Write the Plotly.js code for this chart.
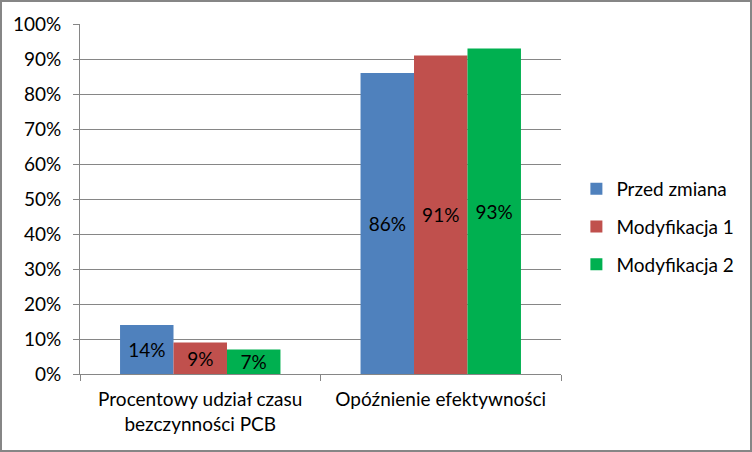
<!DOCTYPE html>
<html><head><meta charset="utf-8">
<script src="https://cdn.plot.ly/plotly-3.0.1.min.js"></script>
<style>
html,body{margin:0;padding:0;background:#fff;}
#wrap{position:relative;width:752px;height:452px;}
#chart{position:absolute;left:0;top:0;width:752px;height:452px;}
#frame{position:absolute;left:0;top:0;width:752px;height:452px;box-sizing:border-box;border:2px solid #868686;pointer-events:none;}
</style></head>
<body>
<div id="wrap"><div id="chart"></div><div id="frame"></div></div>
<script>
const categories = ["Procentowy udział czasu<br>bezczynności PCB", "Opóźnienie efektywności"];
const seriesNames = ["Przed zmiana", "Modyfikacja 1", "Modyfikacja 2"];
const przedZmiana = [0.14, 0.86];
const modyfikacja1 = [0.09, 0.91];
const modyfikacja2 = [0.07, 0.93];
const yTickVals = [0, 0.1, 0.2, 0.3, 0.4, 0.5, 0.6, 0.7, 0.8, 0.9, 1.0];
const yTickText = ["0%", "10%", "20%", "30%", "40%", "50%", "60%", "70%", "80%", "90%", "100%"];
const colors = ["#4F81BD", "#C0504D", "#00B050"];

const FONT = "Lato, 'Open Sans', sans-serif";
const FS = 19;
const seriesValues = [przedZmiana, modyfikacja1, modyfikacja2];
const traces = seriesValues.map((vals, i) => ({
  type: "bar",
  name: seriesNames[i],
  legendgroup: "g" + i,
  x: categories,
  y: vals,
  marker: {color: colors[i], line: {width: 0}},
  texttemplate: "%{y:.0%}",
  textposition: "inside",
  insidetextanchor: "middle",
  textangle: 0,
  insidetextfont: {family: FONT, size: FS, color: "#000"},
  constraintext: "none",
  hoverinfo: "skip"
}));

const layout = {
  width: 752, height: 452,
  margin: {l: 80, r: 191, t: 24, b: 78},
  paper_bgcolor: "#fff", plot_bgcolor: "#fff",
  font: {family: FONT, size: FS, color: "#000"},
  barmode: "group",
  bargap: 0.333,
  bargroupgap: 0,
  showlegend: true,
  legend: {
    x: 1.032, xanchor: "left", y: 0.42, yanchor: "middle",
    font: {family: FONT, size: FS, color: "#000"},
    tracegroupgap: 10,
    itemwidth: 30,
    bgcolor: "rgba(0,0,0,0)"
  },
  xaxis: {
    type: "category",
    showline: true, linecolor: "#868686", linewidth: 1,
    ticks: "outside", tickson: "boundaries", ticklen: 6, tickcolor: "#868686",
    showgrid: false, zeroline: false,
    tickfont: {family: FONT, size: FS, color: "#000"},
    ticklabelstandoff: 8
  },
  yaxis: {
    range: [0, 1],
    tickvals: yTickVals, ticktext: yTickText,
    showline: true, linecolor: "#868686", linewidth: 1,
    ticks: "outside", ticklen: 6, tickcolor: "#868686",
    showgrid: true, gridcolor: "#868686", gridwidth: 1,
    zeroline: false,
    tickfont: {family: FONT, size: FS, color: "#000"},
    ticklabelstandoff: 8
  }
};

Plotly.newPlot("chart", traces, layout, {staticPlot: true, displayModeBar: false});
</script>
</body></html>
